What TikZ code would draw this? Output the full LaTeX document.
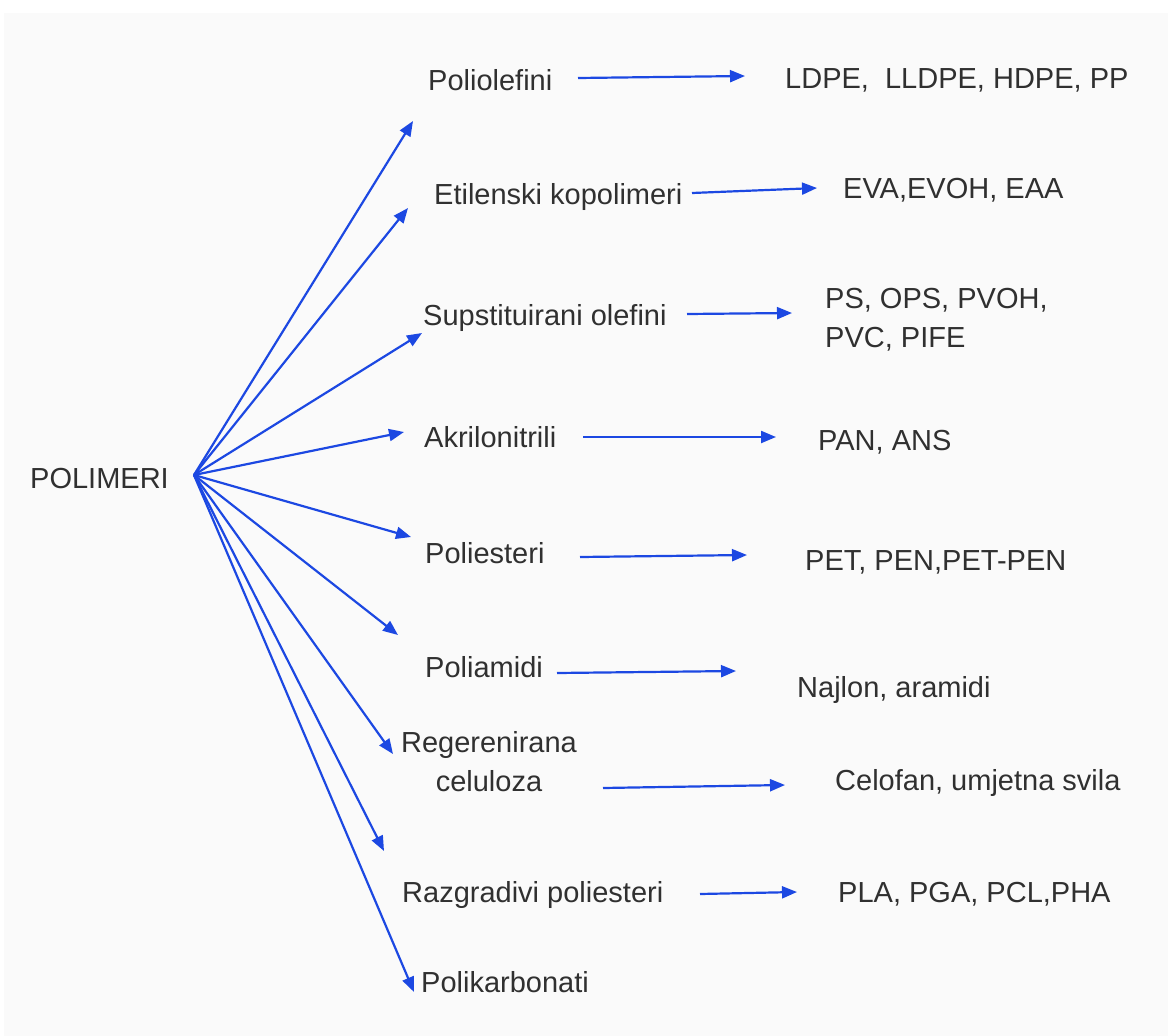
\documentclass[tikz,border=0pt]{standalone}
\usepackage{fontspec}
\setmainfont{Liberation Sans}
\usetikzlibrary{arrows.meta}
\definecolor{arrblue}{RGB}{28,72,226}
\definecolor{txt}{RGB}{48,48,48}
\definecolor{panel}{RGB}{250,250,250}
\tikzset{
  lbl/.style={anchor=base west, inner sep=0pt, text=txt, font=\fontsize{29}{39}\selectfont},
  arr/.style={draw=arrblue, line width=2.2pt, -{Triangle[length=15pt,width=12pt]}},
}
\begin{document}
\begin{tikzpicture}[x=1pt,y=-1pt]
\useasboundingbox (0,0) rectangle (1168,1036);
\fill[white] (0,0) rectangle (1168,1036);
\fill[panel] (4,13) rectangle (1168,1036);

% left text
\node[lbl] (polimeri) at (30,488) {POLIMERI};
\coordinate (hub) at (194,475);

% middle column
\node[lbl] (c1) at (428,90) {Poliolefini};
\node[lbl] (c2) at (434,204) {Etilenski kopolimeri};
\node[lbl] (c3) at (423,325) {Supstituirani olefini};
\node[lbl] (c4) at (424,447) {Akrilonitrili};
\node[lbl] (c5) at (425,563) {Poliesteri};
\node[lbl] (c6) at (425,677) {Poliamidi};
\node[lbl, anchor=base, align=center] (c7) at (489,791) {Regerenirana\\celuloza};
\node[lbl] (c8) at (402,902) {Razgradivi poliesteri};
\node[lbl] (c9) at (421,992) {Polikarbonati};

% right column
\node[lbl] (r1) at (785,88) {LDPE,\ \ LLDPE, HDPE, PP};
\node[lbl] (r2) at (843,198) {EVA,EVOH, EAA};
\node[lbl, align=left] (r3) at (825,347) {PS, OPS, PVOH,\\PVC, PIFE};
\node[lbl] (r4) at (818,450) {PAN, ANS};
\node[lbl] (r5) at (805,570) {PET, PEN,PET-PEN};
\node[lbl] (r6) at (797,697) {Najlon, aramidi};
\node[lbl] (r7) at (835,790) {Celofan, umjetna svila};
\node[lbl] (r8) at (838,902) {PLA, PGA, PCL,PHA};

% fan arrow tips
\coordinate (t1) at (413,121);
\coordinate (t2) at (408,208);
\coordinate (t3) at (422,333);
\coordinate (t4) at (404,432);
\coordinate (t5) at (411,537);
\coordinate (t6) at (398,635);
\coordinate (t7) at (393,754);
\coordinate (t8) at (384,851);
\coordinate (t9) at (414,992);
\foreach \i in {1,...,9} \draw[arr] (hub) -- (t\i);

% horizontal arrows
\coordinate (s1) at (578,78);  \coordinate (e1) at (745,76);
\coordinate (s2) at (692,193); \coordinate (e2) at (817,188);
\coordinate (s3) at (687,314); \coordinate (e3) at (792,313);
\coordinate (s4) at (583,437); \coordinate (e4) at (776,437);
\coordinate (s5) at (580,557); \coordinate (e5) at (747,555);
\coordinate (s6) at (557,673); \coordinate (e6) at (736,671);
\coordinate (s7) at (603,788); \coordinate (e7) at (785,785);
\coordinate (s8) at (700,894); \coordinate (e8) at (797,892);
\foreach \i in {1,...,8} \draw[arr] (s\i) -- (e\i);
\end{tikzpicture}
\end{document}
